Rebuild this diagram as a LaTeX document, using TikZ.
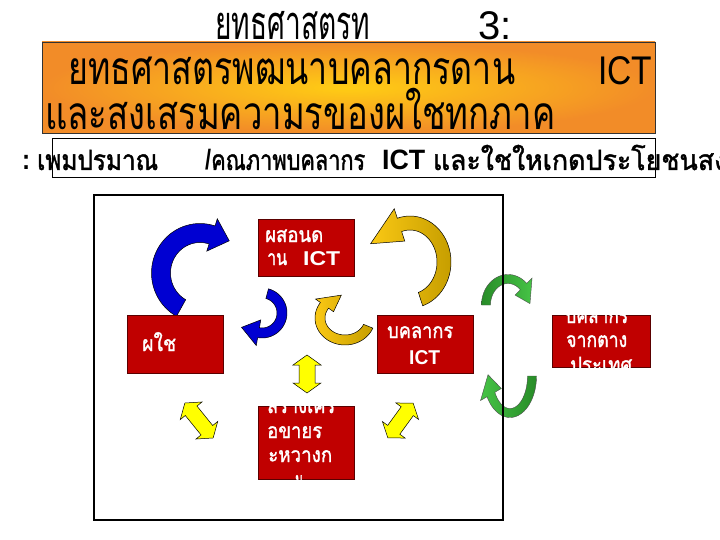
\documentclass[tikz,border=0pt]{standalone}
\usepackage{fontspec}
\usepackage{graphicx}
\setmainfont{Liberation Sans}
\newfontfamily\thf[Script=Thai]{Loma}
\newfontfamily\thfb[Script=Thai,FakeBold=1.6]{Loma}
\definecolor{redbox}{RGB}{192,0,0}
\definecolor{redline}{RGB}{90,0,0}
\definecolor{bluearr}{RGB}{0,0,210}
\definecolor{goldL}{RGB}{250,200,20}
\definecolor{goldD}{RGB}{198,158,0}
\definecolor{greenL}{RGB}{70,195,70}
\definecolor{greenD}{RGB}{40,140,40}
\definecolor{yel}{RGB}{255,255,0}
\definecolor{orIn}{RGB}{255,205,20}
\definecolor{orOut}{RGB}{242,140,40}
\newsavebox\fitbox
\newcommand\fitw[2]{\sbox\fitbox{#2}\scalebox{\fpeval{#1/(\the\wd\fitbox)}}[1]{\usebox\fitbox}}
\pgfkeys{/ba/.is family, /ba,
 cx/.store in=\bacx, cy/.store in=\bacy, rx/.store in=\barx, ry/.store in=\bary,
 a/.store in=\baa, b/.store in=\bab, w/.store in=\baw, hw/.store in=\bahw,
 d/.store in=\bad, k/.store in=\bak}
\newcommand\bentarrow[2]{\pgfkeys{/ba,k=1,#1}%
 \path[#2] plot[domain=\baa:\bab,samples=40] ({\bacx+(\barx+\baw)*cos(\x)},{\bacy+(\bary+\baw)*sin(\x)})
 -- ({\bacx+(\barx+\bahw)*cos(\bab)},{\bacy+(\bary+\bahw)*sin(\bab)})
 -- ({\bacx+\bak*\barx*cos((\bab)+(\bad))},{\bacy+\bak*\bary*sin((\bab)+(\bad))})
 -- ({\bacx+(\barx-\bahw)*cos(\bab)},{\bacy+(\bary-\bahw)*sin(\bab)})
 -- plot[domain=\bab:\baa,samples=40] ({\bacx+(\barx-\baw)*cos(\x)},{\bacy+(\bary-\baw)*sin(\x)}) -- cycle;}
\newcommand\dblarrow[6]{%
 \begin{scope}[shift={(#1,#2)},rotate=#3]
 \path[dblstyle] (-#4,0) -- (-#4+10,-#5) -- (-#4+10,-#6) -- (#4-10,-#6) -- (#4-10,-#5) -- (#4,0)
   -- (#4-10,#5) -- (#4-10,#6) -- (-#4+10,#6) -- (-#4+10,#5) -- cycle;
 \end{scope}}
\begin{document}
\begin{tikzpicture}[x=1pt,y=-1pt,
  txt/.style={inner sep=0pt,anchor=base west},
  wtxt/.style={inner sep=0pt,anchor=base west,text=white},
  rbox/.style={draw=redline,line width=0.6pt,fill=redbox,inner sep=0pt},
  dblstyle/.style={draw=black,line width=0.5pt,fill=yel,line join=miter},
  bluest/.style={draw=black,line width=0.5pt,fill=bluearr},
  goldst/.style={draw=black,line width=0.5pt,left color=goldL,right color=goldD},
  greenA/.style={draw=black!70,line width=0.4pt,left color=greenD,right color=greenL},
  greenB/.style={draw=black!70,line width=0.4pt,left color=greenL,right color=greenD}]
\useasboundingbox (0,0) rectangle (720,540);
\begin{scope}
\clip (0,0) rectangle (720,540);
% title
\node[txt] (t1) at (215,40) {\fitw{155}{\thf\fontsize{47}{50}\selectfont ยทธศาสตรท}};
\node[txt] (t2) at (478,40) {\fontsize{40}{40}\selectfont 3:};
% orange box
\node[draw=black!80,line width=0.6pt,inner color=orIn,outer color=orOut,minimum width=613pt,minimum height=91pt,inner sep=0pt] (ob) at (348.5,87.5) {};
\node[txt] (o1) at (68,85) {\fitw{447}{\thf\fontsize{46}{50}\selectfont ยทธศาสตรพฒนาบคลากรดาน}};
\node[txt] (o2) at (598,85) {\fitw{54}{\fontsize{40}{40}\selectfont ICT}};
\node[txt] (o3) at (45,130) {\fitw{510}{\thf\fontsize{46}{50}\selectfont และสงเสรมความรของผใชทกภาค}};
% row box
\node[draw=black,line width=0.6pt,minimum width=603pt,minimum height=39pt,inner sep=0pt] (rb) at (353.5,157.5) {};
\node[txt] (r1) at (22,170) {\fitw{136}{\bfseries\fontsize{28}{30}\selectfont :\ {\mdseries\thfb เพมปรมาณ}}};
\node[txt] (r2) at (205,170) {\fitw{160}{\bfseries\fontsize{28}{30}\selectfont /{\mdseries\thfb คณภาพบคลากร}}};
\node[txt] (r3) at (382,170) {\fitw{345}{\bfseries\fontsize{28}{30}\selectfont ICT {\mdseries\thfb และใชใหเกดประโยชนสง}}};
% arrows
\bentarrow{cx=200,cy=273,rx=39,ry=40,a=119,b=288,w=9.5,hw=17,d=25,k=1.1}{bluest}
\bentarrow{cx=262,cy=313,rx=20,ry=20,a=-75,b=100,w=5,hw=13,d=45,k=1.25}{bluest}
\bentarrow{cx=410,cy=262,rx=34,ry=39,a=72,b=-108,w=7,hw=17,d=-50,k=1.25}{goldst}
\bentarrow{cx=345,cy=318,rx=25,ry=22,a=22,b=215,w=5,hw=11,d=47,k=1.05}{goldst}
\bentarrow{cx=508,cy=305,rx=22,ry=26,a=180,b=315,w=4.5,hw=12,d=42}{greenA}
\bentarrow{cx=510,cy=376,rx=22,ry=37,a=0,b=150,w=4.5,hw=12,d=32}{greenB}
\dblarrow{307}{374}{90}{19}{14}{8}
\dblarrow{199}{420.5}{-51}{22.5}{14}{7.5}
\dblarrow{400.5}{420.5}{54}{21.5}{14}{7.5}
% frame
\node[draw=black,line width=1.3pt,minimum width=409pt,minimum height=325pt,inner sep=0pt] (fr) at (298.5,357.5) {};
% red boxes
\node[rbox,minimum width=96pt,minimum height=57pt] (b1) at (306,247.5) {};
\node[rbox,minimum width=96pt,minimum height=58pt] (b2) at (175,344) {};
\node[rbox,minimum width=96pt,minimum height=58pt] (b3) at (425,344) {};
\node[rbox,minimum width=96pt,minimum height=73pt] (b4) at (306,442.5) {};
\node[rbox,minimum width=98pt,minimum height=52pt] (b5) at (601,341) {};
\def\bt{\thfb\fontsize{21}{24}\selectfont}
\def\bl{\bfseries\fontsize{20}{24}\selectfont}
\begin{scope}
\clip (b1.north west) rectangle (b1.south east);
\node[wtxt] (b1a) at (265,242) {\fitw{58}{\bt ผสอนด}};
\node[wtxt] (b1b) at (267,265) {\fitw{20}{\bt าน}};
\node[wtxt] (b1c) at (303,265) {\fitw{37}{\bl ICT}};
\end{scope}
\begin{scope}
\clip (b2.north west) rectangle (b2.south east);
\node[wtxt] (b2a) at (142,351) {\fitw{34}{\bt ผใช}};
\end{scope}
\begin{scope}
\clip (b3.north west) rectangle (b3.south east);
\node[wtxt] (b3a) at (387,338) {\fitw{66}{\bt บคลากร}};
\node[wtxt] (b3b) at (409,364) {\fitw{31}{\bl ICT}};
\end{scope}
\begin{scope}
\clip (b4.north west) rectangle (b4.south east);
\node[wtxt] (b4a) at (267,413) {\fitw{68}{\bt สรางเคร}};
\node[wtxt] (b4b) at (267,438) {\fitw{55}{\bt อขายร}};
\node[wtxt] (b4c) at (268,462) {\fitw{64}{\bt ะหวางก}};
\node[wtxt] (b4d) at (295,487) {\fitw{8}{\bt น}};
\end{scope}
\begin{scope}
\clip (b5.north west) rectangle (b5.south east);
\node[wtxt] (b5a) at (565,323) {\fitw{63}{\bt บคลากร}};
\node[wtxt] (b5b) at (566,347) {\fitw{61}{\bt จากตาง}};
\node[wtxt] (b5c) at (570,372) {\fitw{62}{\bt ประเทศ}};
\end{scope}
\end{scope}
\end{tikzpicture}
\end{document}
